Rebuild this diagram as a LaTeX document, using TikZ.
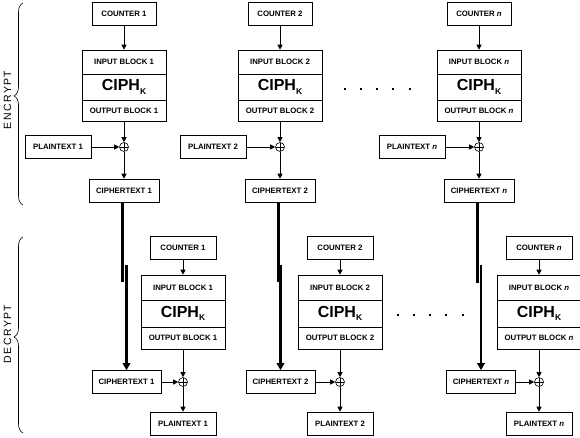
\documentclass[tikz,border=0pt]{standalone}
\usepackage{fontspec}
\setmainfont{Liberation Sans}
\usetikzlibrary{arrows.meta,calc,decorations.pathreplacing}
\newcommand\CiphK{{\fontsize{16}{16}\selectfont\bfseries CIPH\raisebox{-3.5pt}{\fontsize{8.5}{8.5}\selectfont K}}}
\newcommand\EncCol[4]{%
  \node[lbl, minimum width=64pt] (ec#1) at (#3,13.5) {COUNTER #2};
  \node[lbl, minimum width=84pt, minimum height=24pt] (ei#1) at (#3,62) {INPUT BLOCK #2};
  \node[lbl, minimum width=84pt, minimum height=26pt] (ek#1) at (#3,87) {\CiphK};
  \node[lbl, minimum width=84pt, minimum height=21pt] (eo#1) at (#3,110.5) {OUTPUT BLOCK #2};
  \node[xorn] (ex#1) at (#3,147) {};
  \node[lbl, minimum width=66pt] (ep#1) at (#4,147) {PLAINTEXT #2};
  \node[lbl, minimum width=70pt] (et#1) at (#3,190.5) {CIPHERTEXT #2};
  \draw[arr] (ec#1) -- (ei#1);
  \draw[arr] (eo#1) -- (ex#1);
  \draw[arr] (ep#1) -- (ex#1);
  \draw[arr] (ex#1) -- (et#1);
}
\newcommand\DecCol[4]{%
  \node[lbl, minimum width=66pt] (dc#1) at (#3,247.5) {COUNTER #2};
  \node[lbl, minimum width=84pt, minimum height=25pt] (di#1) at (#3,287.5) {INPUT BLOCK #2};
  \node[lbl, minimum width=84pt, minimum height=27pt] (dk#1) at (#3,313.5) {\CiphK};
  \node[lbl, minimum width=84pt, minimum height=22pt] (do#1) at (#3,338) {OUTPUT BLOCK #2};
  \node[xorn] (dx#1) at (#3,382) {};
  \node[lbl, minimum width=69pt] (dt#1) at (#4,382) {CIPHERTEXT #2};
  \node[lbl, minimum width=66pt] (dp#1) at (#3,423.5) {PLAINTEXT #2};
  \draw[arr] (dc#1) -- (di#1);
  \draw[arr] (do#1) -- (dx#1);
  \draw[arr] (dt#1) -- (dx#1);
  \draw[arr] (dx#1) -- (dp#1);
}
\begin{document}
\begin{tikzpicture}[x=1pt,y=-1pt,
  lbl/.style={draw, line width=0.6pt, minimum height=23pt, inner sep=0pt,
    font=\fontsize{7.8}{8}\selectfont\bfseries},
  arr/.style={line width=0.7pt, -{Triangle[width=5pt,length=5pt]}},
  thk/.style={line width=3pt},
  thkarr/.style={line width=2.6pt, -{Triangle[width=7.5pt,length=7pt]}},
  xorn/.style={circle, draw, line width=0.6pt, minimum size=9pt, inner sep=0pt,
    path picture={\draw[line width=0.6pt]
      (path picture bounding box.north) -- (path picture bounding box.south)
      (path picture bounding box.west) -- (path picture bounding box.east);}},
  brc/.style={decorate, decoration={brace, amplitude=9pt, aspect=#1}, line width=0.6pt},
  brc/.default=0.5,
  sidelbl/.style={rotate=90, font=\fontsize{10.5}{10.5}\selectfont\addfontfeature{LetterSpace=14}},
  dotm/.style={fill=black}
]
\useasboundingbox (0,0) rectangle (580,438);
\EncCol{1}{1}{124}{58}
\EncCol{2}{2}{280}{213}
\EncCol{n}{\textit{n}}{479}{412}
\DecCol{1}{1}{183}{126.5}
\DecCol{2}{2}{340}{280.5}
\DecCol{n}{\textit{n}}{539}{481}
% thick connectors with jog
\coordinate (ja1) at (122,282); \coordinate (jb1) at (126.5,265);
\coordinate (ja2) at (278,282); \coordinate (jb2) at (280.5,265);
\coordinate (jan) at (477,283); \coordinate (jbn) at (481,265);
\draw[thk] ([xshift=-2pt]et1.south) -- (ja1);
\draw[thkarr] (jb1) -- (dt1);
\draw[thk] ([xshift=-2pt]et2.south) -- (ja2);
\draw[thkarr] (jb2) -- (dt2);
\draw[thk] ([xshift=-2pt]etn.south) -- (jan);
\draw[thkarr] (jbn) -- (dtn);
% dots
\foreach \x in {345,361,377,393,410} \fill[dotm] (\x-1,88) rectangle (\x+1,90);
\foreach \x in {398,414,430,446,463} \fill[dotm] (\x-1,314) rectangle (\x+1,316);
% braces and side labels
\draw[brc=0.54] (23,205) -- (23,3);
\draw[brc=0.49] (23,433) -- (23,237);
\node[sidelbl] (enc) at (7.5,100) {ENCRYPT};
\node[sidelbl] (dec) at (7.5,334) {DECRYPT};
\end{tikzpicture}
\end{document}
